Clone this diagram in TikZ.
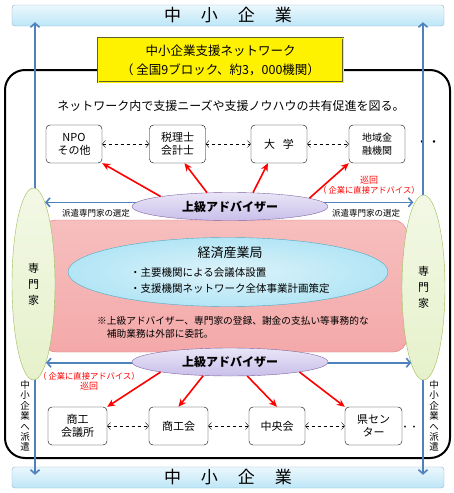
\documentclass[tikz,border=0pt]{standalone}
\usepackage{fontspec}
\setmainfont{Noto Sans CJK JP}
\usetikzlibrary{shapes.geometric,arrows.meta}
\definecolor{barblue}{HTML}{BDE6F7}
\definecolor{barline}{HTML}{8DB3CC}
\definecolor{linkblue}{HTML}{4F81BD}
\definecolor{ybord}{HTML}{5E5E2E}
\definecolor{advfill}{HTML}{C9BFEA}
\definecolor{advline}{HTML}{8064A2}
\definecolor{greenfill}{HTML}{E6F1CB}
\definecolor{greenline}{HTML}{9BBB59}
\definecolor{pinkfill}{HTML}{F4A9A9}
\definecolor{pinkline}{HTML}{E07A7A}
\definecolor{cyanfill}{HTML}{B3E5F5}
\definecolor{cyanline}{HTML}{4BACC6}
\begin{document}
\begin{tikzpicture}[x=1pt,y=-1pt,
bar/.style={draw=barline,rounded corners=3pt,top color=barblue!30,bottom color=barblue,minimum width=432pt,minimum height=21pt,inner sep=0pt,font=\fontsize{17}{18}\selectfont},
org/.style={draw,rounded corners=4pt,minimum width=56pt,minimum height=38pt,inner sep=1pt,align=center,font=\fontsize{11}{13}\selectfont},
adv/.style={ellipse,draw=advline,top color=advfill!40,bottom color=advfill,minimum width=196pt,minimum height=28pt,inner sep=0pt,font=\bfseries\fontsize{12}{14}\selectfont},
expert/.style={ellipse,draw=greenline,top color=greenfill!50,bottom color=greenfill,minimum width=43pt,inner sep=0pt,align=center,font=\fontsize{11}{16}\selectfont},
share/.style={dashed,{Straight Barb[length=3pt,width=7pt]}-{Straight Barb[length=3pt,width=7pt]}},
visit/.style={red,line width=1.6pt,-{Stealth[length=8pt,width=7pt]}},
link/.style={linkblue,line width=1.6pt,{Straight Barb[length=4pt,width=9pt]}-{Straight Barb[length=4pt,width=9pt]}},
small/.style={inner sep=0pt,font=\fontsize{8.5}{10}\selectfont},
redtext/.style={red,inner sep=0pt,align=center,font=\fontsize{8.3}{10}\selectfont},
vtext/.style={inner sep=0pt,align=center,font=\fontsize{9.5}{10.4}\selectfont}
]
\useasboundingbox (0,0) rectangle (454,493);
\node[draw,line width=2pt,rounded corners=20pt,minimum width=445pt,minimum height=388pt] (net) at (227.5,264) {};
\node[bar] (topbar) at (228,15.5) {中\hspace{20pt}小\hspace{20pt}企\hspace{20pt}業};
\node[bar] (botbar) at (228,477.5) {中\hspace{20pt}小\hspace{20pt}企\hspace{20pt}業};
\node[fill=yellow,draw=ybord,line width=0.8pt,double=yellow,double distance=0.8pt,minimum width=245pt,minimum height=44pt,align=center,font=\fontsize{12.5}{19}\selectfont] (title) at (220.5,60) {中小企業支援ネットワーク\\（ 全国9ブロック、約3，000機関）};
\node[font=\fontsize{12}{14}\selectfont] (goal) at (231,106) {ネットワーク内で支援ニーズや支援ノウハウの共有促進を図る。};

\node[org] (npo) at (74,144) {NPO\\その他};
\node[org] (tax) at (177.5,144) {税理士\\会計士};
\node[org] (univ) at (279,144) {大\hspace{8pt}学};
\node[org,font=\fontsize{10}{12.5}\selectfont] (bank) at (377,144) {地域金\\融機関};
\node[inner sep=0pt,font=\fontsize{12}{14}\selectfont] (moreT) at (428,144) {・・};
\draw[share] (npo) -- (tax);
\draw[share] (tax) -- (univ);
\draw[share] (univ) -- (bank);

\node[org,minimum width=59pt] (cci) at (77.5,426) {商工\\会議所};
\node[org,minimum width=59pt] (shoko) at (178.5,426) {商工会};
\node[org] (chuo) at (277,426) {中央会};
\node[org,minimum width=57pt] (ken) at (373.5,426) {県セン\\ター};
\node[inner sep=0pt,font=\fontsize{9}{12}\selectfont] (moreB) at (414,428) {・・・};
\draw[share] (cci) -- (shoko);
\draw[share] (shoko) -- (chuo);
\draw[share] (chuo) -- (ken);

\coordinate (colL) at (35,0);
\coordinate (colR) at (423,0);
\draw[link,shorten <=-8pt,shorten >=-4pt] (botbar.north -| colL) -- (topbar.south -| colL);
\draw[link,shorten <=-8pt,shorten >=-4pt] (botbar.north -| colR) -- (topbar.south -| colR);

\node[draw=pinkline,rounded corners=14pt,top color=pinkfill!75,middle color=pinkfill!40,bottom color=pinkfill,minimum width=365pt,minimum height=132pt] (bureau) at (224.5,286) {};
\node[expert,minimum height=192pt] (senL) at (33.5,284) {専\\門\\家};
\node[expert,minimum height=185pt] (senR) at (423.5,287.5) {専\\門\\家};

\draw[link] (senL.82) -- (senL.82 -| senR.97);
\draw[link] (senL.-81) -- (senL.-81 -| senR.-99);

\node[adv] (advT) at (230,206.5) {上級アドバイザー};
\node[adv] (advB) at (230,362) {上級アドバイザー};

\draw[visit] (advT.north west) -- (npo.south east);
\draw[visit] (advT.149) -- (tax.-70);
\draw[visit] (advT.31) -- (univ.-120);
\draw[visit] (advT.6) -- (bank.south west);
\draw[visit] (advB.south west) -- (cci.north east);
\draw[visit] (advB.-153) -- (shoko.north);
\draw[visit] (advB.-39) -- (chuo.north);
\draw[visit] (advB.south east) -- (ken.north west);

\node[ellipse,draw=cyanline,inner color=cyanfill!45,outer color=cyanfill,minimum width=320pt,minimum height=69pt] (meti) at (228,272) {};
\node[font=\fontsize{13}{15}\selectfont] (metiT) at (230,253) {経済産業局};
\node[anchor=west,inner sep=0pt,font=\fontsize{10.5}{12}\selectfont] (plan1) at (130,273) {・主要機関による会議体設置};
\node[anchor=west,inner sep=0pt,font=\fontsize{10.5}{12}\selectfont] (plan2) at (130,289) {・支援機関ネットワーク全体事業計画策定};
\node[anchor=west,align=left,inner sep=0pt,font=\fontsize{9.7}{13}\selectfont] (note) at (97,327) {※上級アドバイザー、専門家の登録、謝金の支払い等事務的な\\\hspace{9.7pt}補助業務は外部に委託。};

\node[small] (selL) at (96,213) {派遣専門家の選定};
\node[small] (selR) at (366,213) {派遣専門家の選定};
\node[redtext] (visitT) at (369,185) {{\fontsize{9}{10}\selectfont 巡回}\\（ 企業に直接アドバイス）};
\node[redtext] (visitB) at (89,381) {（ 企業に直接アドバイス）\\{\fontsize{9}{10}\selectfont 巡回}};
\node[vtext] (sendL) at (25,416) {中\\小\\企\\業\\へ\\派\\遣};
\node[vtext] (sendR) at (434,416) {中\\小\\企\\業\\へ\\派\\遣};
\end{tikzpicture}
\end{document}
